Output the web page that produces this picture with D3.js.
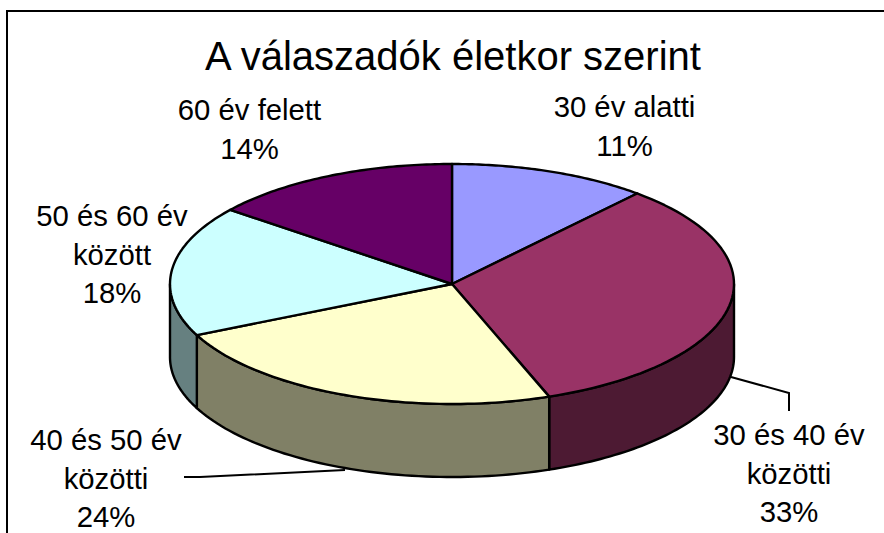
<!doctype html>
<html lang="hu">
<head>
    <title>A válaszadók életkor szerint</title>
    <meta charset="utf-8"/>
    <script src="https://d3js.org/d3.v7.min.js"></script>
    <style>
        body { margin: 0; padding: 0; background: #fff; }
        svg { display: block; }
        text { font-family: "Liberation Sans", Arial, sans-serif; fill: #000; }
    </style>
</head>
<body>
<script>
    // adatok
    const labelNames = [
        ['30 év alatti'],
        ['30 és 40 év', 'közötti'],
        ['40 és 50 év', 'közötti'],
        ['50 és 60 év', 'között'],
        ['60 év felett']
    ]
    // a feliratok kerekítve mutatják
    const shares = [11.4, 33, 23.6, 17.6, 14.4]
    const topColors = ['#9999ff', '#993366', '#ffffcc', '#ccffff', '#660066']
    const sideColors = ['#4d4d80', '#4d1a33', '#808066', '#668080', '#330033']
    const labelPos = [[624.5, 117], [789, 445], [106, 450], [112, 226], [249.5, 120]]

    const width = 884, height = 533
    const cx = 452, cy = 284, rx = 282, ry = 120, depth = 73

    const svg = d3.select('body').append('svg')
        .attr('width', width)
        .attr('height', height)

    // keret, a jobb széle lelóg a képről
    svg.append('path')
        .attr('d', `M7,${height}V11H${width}`)
        .attr('fill', 'none')
        .attr('stroke', '#000')
        .attr('stroke-width', 2)

    svg.append('text')
        .attr('x', 453)
        .attr('y', 70)
        .attr('text-anchor', 'middle')
        .style('font-size', '40px')
        .text('A válaszadók életkor szerint')

    const slices = d3.pie().sort(null)(shares)

    // szög -> pont az ellipszisen (0 = felül, óramutató szerint)
    const ex = a => cx + rx * Math.sin(a)
    const ey = a => cy - ry * Math.cos(a)
    const line = d3.line()
    const rim = (a0, a1) => d3.range(0, 61).map(i => a0 + (a1 - a0) * i / 60)

    // oldalfal, csak az elülső rész látszik
    slices.forEach(function (d, i) {
        const a0 = Math.max(d.startAngle, Math.PI / 2)
        const a1 = Math.min(d.endAngle, Math.PI * 1.5)
        if (a1 <= a0) return
        const top = rim(a0, a1).map(a => [ex(a), ey(a)])
        const bottom = top.map(p => [p[0], p[1] + depth]).reverse()
        svg.append('path')
            .attr('d', line(top.concat(bottom)) + 'Z')
            .attr('fill', sideColors[i])
            .attr('stroke', '#000')
            .attr('stroke-width', 2.4)
            .attr('stroke-linejoin', 'round')
    })

    // felső lap
    slices.forEach(function (d, i) {
        const pts = [[cx, cy]].concat(rim(d.startAngle, d.endAngle).map(a => [ex(a), ey(a)]))
        svg.append('path')
            .attr('d', line(pts) + 'Z')
            .attr('fill', topColors[i])
            .attr('stroke', '#000')
            .attr('stroke-width', 2.4)
            .attr('stroke-linejoin', 'round')
    })

    // vezetővonalak
    svg.append('path')
        .attr('d', 'M731,377L789,393V411')
        .attr('fill', 'none')
        .attr('stroke', '#000')
        .attr('stroke-width', 2)
    svg.append('path')
        .attr('d', 'M184,477H200L345,470')
        .attr('fill', 'none')
        .attr('stroke', '#000')
        .attr('stroke-width', 2)

    // címkék
    labelNames.forEach(function (names, i) {
        const lines = names.concat(Math.round(shares[i]) + '%')
        svg.append('text')
            .attr('text-anchor', 'middle')
            .style('font-size', '29.3px')
            .selectAll('tspan')
            .data(lines)
            .enter()
            .append('tspan')
            .attr('x', labelPos[i][0])
            .attr('y', (d, j) => labelPos[i][1] + j * 38.5)
            .text(d => d)
    })
</script>
</body>
</html>
